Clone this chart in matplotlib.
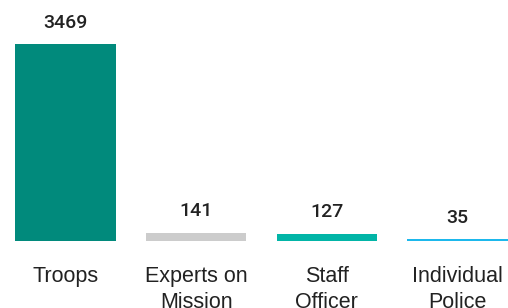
import matplotlib.pyplot as plt

# personnel by category
categories = ["Troops", "Experts on\nMission", "Staff\nOfficer", "Individual\nPolice"]
values = [3469, 141, 127, 35]
colors = ["#018A7C", "#CCCCCC", "#02B5A7", "#1DB8EC"]

fig = plt.figure(figsize=(5.08, 3.08), dpi=100)
ax = fig.add_axes([0, 67 / 308, 1, 241 / 308])

x = range(len(categories))
bars = ax.bar(x, values, width=0.77, color=colors)

for bar, v in zip(bars, values):
    ax.annotate(str(v), (bar.get_x() + bar.get_width() / 2, v),
                xytext=(0, 9), textcoords="offset points",
                ha="center", va="bottom", fontsize=14,
                family="Roboto", weight="medium", color="#222222")

ax.set_xlim(-0.501, 3.386)
ax.set_ylim(0, 3469 * 241 / 197)
ax.set_xticks(list(x))
ax.set_xticklabels(categories, family="Liberation Sans", fontsize=15.5,
                   color="#222222", linespacing=1.3)
ax.tick_params(axis="x", length=0, pad=18)
ax.set_yticks([])
for s in ax.spines.values():
    s.set_visible(False)

fig.savefig("out.png", dpi=100)
